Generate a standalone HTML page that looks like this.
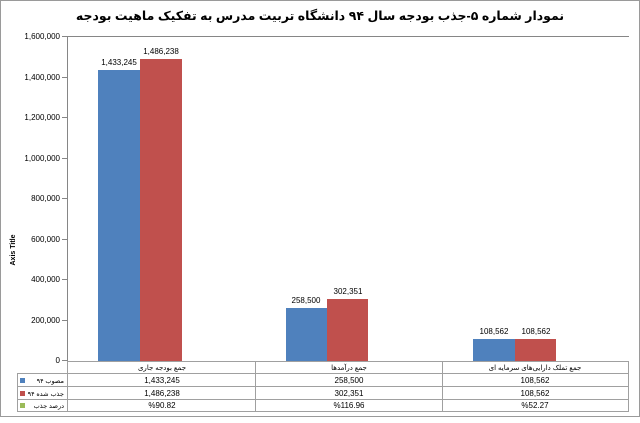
<!DOCTYPE html>
<html><head><meta charset="utf-8"><style>
body{margin:0;background:#fff;}
svg text{font-family:"Liberation Sans","DejaVu Sans",sans-serif;}
</style></head><body>
<svg width="640" height="418" xmlns="http://www.w3.org/2000/svg">
<rect x="0.5" y="0.5" width="639" height="416" fill="#fff" stroke="#9a9a9a"/>
<text x="320" y="20" font-size="12.5" font-weight="bold" text-anchor="middle" font-family="DejaVu Sans,sans-serif">نمودار شماره ۵-جذب بودجه سال ۹۴ دانشگاه تربیت مدرس به تفکیک ماهیت بودجه</text>
<g stroke="#868686" stroke-width="1">
<line x1="62" y1="36.5" x2="68" y2="36.5"/><line x1="62" y1="77.5" x2="68" y2="77.5"/><line x1="62" y1="117.5" x2="68" y2="117.5"/><line x1="62" y1="158.5" x2="68" y2="158.5"/><line x1="62" y1="198.5" x2="68" y2="198.5"/><line x1="62" y1="239.5" x2="68" y2="239.5"/><line x1="62" y1="279.5" x2="68" y2="279.5"/><line x1="62" y1="320.5" x2="68" y2="320.5"/><line x1="62" y1="360.5" x2="68" y2="360.5"/>
<line x1="67.5" y1="36" x2="67.5" y2="361"/>
<line x1="67" y1="36.5" x2="629" y2="36.5"/>
</g>
<g font-size="8" text-anchor="end" fill="#000">
<text x="60" y="39">1,600,000</text><text x="60" y="80">1,400,000</text><text x="60" y="120">1,200,000</text><text x="60" y="161">1,000,000</text><text x="60" y="201">800,000</text><text x="60" y="242">600,000</text><text x="60" y="282">400,000</text><text x="60" y="323">200,000</text><text x="60" y="363">0</text>
</g>
<text transform="translate(15,250) rotate(-90)" font-size="7" font-weight="bold" text-anchor="middle">Axis Title</text>
<rect x="98" y="70" width="42" height="291" fill="#4f81bd"/>
<rect x="140" y="59" width="42" height="302" fill="#c0504d"/>
<rect x="286" y="308" width="41" height="53" fill="#4f81bd"/>
<rect x="327" y="299" width="41" height="62" fill="#c0504d"/>
<rect x="473" y="339" width="42" height="22" fill="#4f81bd"/>
<rect x="515" y="339" width="41" height="22" fill="#c0504d"/>
<g font-size="8" text-anchor="middle">
<text x="119" y="65">1,433,245</text><text x="161" y="54">1,486,238</text>
<text x="306" y="303">258,500</text><text x="348" y="294">302,351</text>
<text x="494" y="334">108,562</text><text x="536" y="334">108,562</text>
</g>
<g stroke="#a0a0a0" fill="none">
<line x1="67" y1="361.5" x2="629" y2="361.5"/>
<line x1="17" y1="373.5" x2="629" y2="373.5"/>
<line x1="17" y1="386.5" x2="629" y2="386.5"/>
<line x1="17" y1="399.5" x2="629" y2="399.5"/>
<line x1="17" y1="411.5" x2="629" y2="411.5"/>
<line x1="17.5" y1="373" x2="17.5" y2="412"/>
<line x1="67.5" y1="361" x2="67.5" y2="412"/>
<line x1="255.5" y1="361" x2="255.5" y2="412"/>
<line x1="442.5" y1="361" x2="442.5" y2="412"/>
<line x1="628.5" y1="361" x2="628.5" y2="412"/>
</g>
<g font-size="7" text-anchor="middle" font-family="DejaVu Sans,sans-serif">
<text x="162" y="370">جمع بودجه جاری</text><text x="349" y="370">جمع درآمدها</text><text x="535" y="370">جمع تملک دارایی‌های سرمایه ای</text>
</g>
<g font-size="8" text-anchor="middle">
<text x="162" y="383">1,433,245</text><text x="349" y="383">258,500</text><text x="535" y="383">108,562</text>
<text x="162" y="396">1,486,238</text><text x="349" y="396">302,351</text><text x="535" y="396">108,562</text>
<text x="162" y="408">%90.82</text><text x="349" y="408">%116.96</text><text x="535" y="408">%52.27</text>
</g>
<rect x="20" y="378" width="5" height="5" fill="#4f81bd"/>
<rect x="20" y="391" width="5" height="5" fill="#c0504d"/>
<rect x="20" y="403" width="5" height="5" fill="#9bbb59"/>
<g font-size="6.5" font-family="DejaVu Sans,sans-serif" text-anchor="end">
<text x="64" y="383">مصوب ۹۴</text><text x="64" y="396">جذب شده ۹۴</text><text x="64" y="408">درصد جذب</text>
</g>
</svg>
</body></html>
